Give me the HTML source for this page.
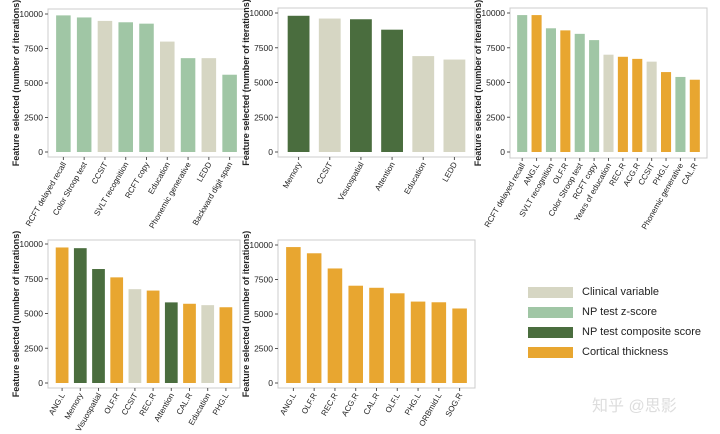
<!DOCTYPE html>
<html><head><meta charset="utf-8"><style>
body{margin:0;background:#fff;width:720px;height:434px;overflow:hidden;font-family:"Liberation Sans",Arial,sans-serif}
svg{position:absolute;left:0;top:0}
.legend{position:absolute;left:528px;top:282px}
.li{display:flex;align-items:center;height:20px;font-size:11px;color:#222}
.sw{width:45px;height:11px;margin-right:9px}
</style></head><body>
<svg id="chart" width="720" height="434"></svg>
<div class="legend">
<div class="li"><div class="sw" style="background:#d6d6c3"></div>Clinical variable</div>
<div class="li"><div class="sw" style="background:#a0c6a5"></div>NP test z-score</div>
<div class="li"><div class="sw" style="background:#4a6d3e"></div>NP test composite score</div>
<div class="li"><div class="sw" style="background:#e8a630"></div>Cortical thickness</div>
</div>
<div style="position:absolute;left:592px;top:392px;font-size:16px;color:#ddd;font-family:'Liberation Sans','Noto Sans CJK SC',sans-serif">知乎 @思影</div>
<script>
const yTicks=[0,2500,5000,7500,10000];
const p1Cats=["RCFT delayed recall","Color Stroop test","CCSIT","SVLT recognition","RCFT copy","Education","Phonemic generative","LEDD","Backward digit span"];
const p1Vals=[9900,9750,9500,9400,9300,8000,6800,6800,5600];
const p1Types=["z","z","c","z","z","c","z","c","z"];
const p2Cats=["Memory","CCSIT","Visuospatial","Attention","Education","LEDD"];
const p2Vals=[9800,9600,9550,8800,6900,6650];
const p2Types=["m","c","m","m","c","c"];
const p3Cats=["RCFT delayed recall","ANG.L","SVLT recognition","OLF.R","Color Stroop test","RCFT copy","Years of education","REC.R","ACG.R","CCSIT","PHG.L","Phonemic generative","CAL.R"];
const p3Vals=[9850,9850,8900,8750,8500,8050,7000,6850,6700,6500,5750,5400,5200];
const p3Types=["z","o","z","o","z","z","c","o","o","c","o","z","o"];
const p4Cats=["ANG.L","Memory","Visuospatial","OLF.R","CCSIT","REC.R","Attention","CAL.R","Education","PHG.L"];
const p4Vals=[9750,9700,8200,7600,6750,6650,5800,5700,5600,5450];
const p4Types=["o","m","m","o","c","o","m","o","c","o"];
const p5Cats=["ANG.L","OLF.R","REC.R","ACG.R","CAL.R","OLF.L","PHG.L","ORBmid.L","SOG.R"];
const p5Vals=[9850,9400,8300,7050,6900,6500,5900,5850,5400];
const p5Types=["o","o","o","o","o","o","o","o","o"];

const colors={c:"#d6d6c3",z:"#a0c6a5",m:"#4a6d3e",o:"#e8a630"};
const svg=document.getElementById('chart');
const NS="http://www.w3.org/2000/svg";
function mk(tag,attrs){const e=document.createElementNS(NS,tag);for(const k in attrs)e.setAttribute(k,attrs[k]);svg.appendChild(e);return e;}
function panel(id,L,R,T,B,y0,y1,cats,vals,types){
  const ys=v=>y0+(y1-y0)*v/10000;
  const fr=mk('rect',{x:L,y:T,width:R-L,height:B-T,fill:'none',stroke:'#ccc','stroke-width':1});
  
  
  yTicks.forEach(t=>{
    const tl=mk('line',{x1:L-3,x2:L,y1:ys(t),y2:ys(t),stroke:'#555'});
    
    
    const tx=mk('text',{x:L-5,y:ys(t)+3,'text-anchor':'end','font-size':8.5,fill:'#222'});
    tx.textContent=t;
    
    
  });
  const ttl=mk('text',{x:0,y:0,'text-anchor':'middle','font-size':9,'font-weight':'bold',fill:'#222',transform:`translate(${L-29},${(T+B)/2}) rotate(-90)`});
  ttl.textContent="Feature selected (number of iterations)";
  
  
  const n=cats.length, pad=5, band=(R-L-2*pad)/n, bw=band*0.7;
  cats.forEach((c,i)=>{
    const cx=L+pad+band*(i+0.5);
    const r=mk('rect',{x:cx-bw/2,y:ys(vals[i]),width:bw,height:ys(0)-ys(vals[i]),fill:colors[types[i]]});
    
    
    const tl=mk('line',{x1:cx,x2:cx,y1:B,y2:B+3,stroke:'#555'});
    
    
    const tx=mk('text',{x:0,y:0,'text-anchor':'end','font-size':8,fill:'#222',transform:`translate(${cx+3},${B+7}) rotate(-60)`});
    tx.textContent=c;
    
    
  });
}
panel('panel1',48,245,9,157,152,14,p1Cats,p1Vals,p1Types);
panel('panel2',278,475,8,157,152,13,p2Cats,p2Vals,p2Types);
panel('panel3',510,707,8,158,152,13,p3Cats,p3Vals,p3Types);
panel('panel4',48,240,240,388,383,244,p4Cats,p4Vals,p4Types);
panel('panel5',278,475,240,388,383,245,p5Cats,p5Vals,p5Types);
</script>
</body></html>
